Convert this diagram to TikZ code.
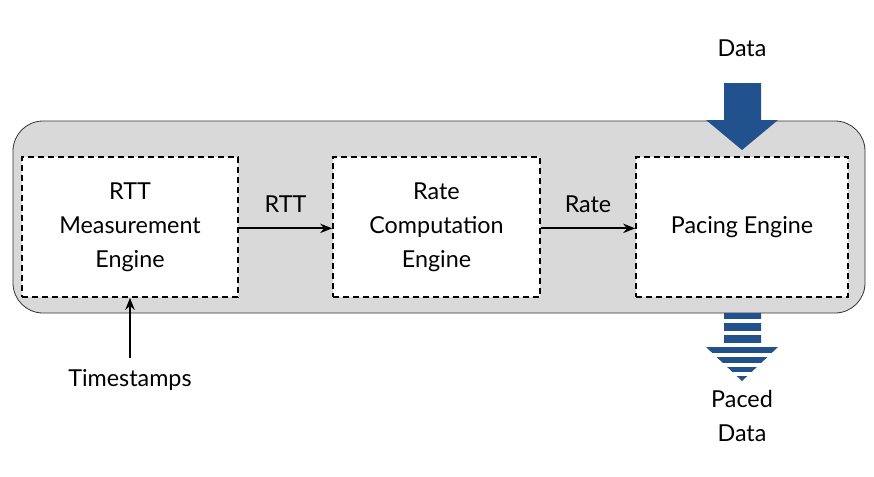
\documentclass[tikz,border=0pt]{standalone}
\usepackage{fontspec}
\setmainfont{Lato}
\usetikzlibrary{arrows.meta}
\definecolor{dblue}{HTML}{22528D}
\definecolor{panel}{HTML}{D9D9D9}
\begin{document}
\begin{tikzpicture}[x=0.75pt,y=-0.75pt,
  font=\fontsize{17.5}{25.5}\selectfont,
  engine/.style={draw=black,dashed,dash pattern=on 4.5pt off 3pt,line width=1.2pt,fill=white,minimum height=105pt,align=center,inner sep=0pt},
  flow/.style={line width=1.6pt,-{Stealth[length=9pt,width=7pt]}},
  lbl/.style={inner sep=0pt,align=center}]
\useasboundingbox (0,0) rectangle (874,476);
\fill[panel,draw=black!80,line width=0.6pt,rounded corners=22.5pt] (13,121) rectangle (865,313);
\node[engine,minimum width=162pt] (rtt) at (130,227) {RTT\\Measurement\\Engine};
\node[engine,minimum width=155.25pt] (rate) at (436.5,227) {Rate\\Computation\\Engine};
\node[engine,minimum width=159pt] (pace) at (742,227) {Pacing Engine};
\draw[flow] ([yshift=-1pt]rtt.east) -- node[lbl,above=11pt] {RTT} ([yshift=-1pt]rate.west);
\draw[flow] ([yshift=-1pt]rate.east) -- node[lbl,above=11pt] {Rate} ([yshift=-1pt]pace.west);
\node[lbl] (ts) at (130,380) {Timestamps};
\draw[flow] (ts.north |- 0,358) coordinate (tsn) -- (rtt.south);
\node[lbl] (data) at (742,48) {Data};
\fill[dblue] (724,83) -- (761,83) -- (761,120) -- (778,120) -- (742,150) -- (706,120) -- (724,120) -- cycle;
\begin{scope}
\clip (724,313) -- (761,313) -- (761,347) -- (778,347) -- (742,381) -- (706,347) -- (724,347) -- cycle;
\foreach \a/\b in {313/319,323/331,335/343,347/353,357/363,367/372,376/381}
  \fill[dblue] (700,\a) rectangle (784,\b);
\end{scope}
\node[lbl] (paced) at (742,416) {Paced\\Data};
\end{tikzpicture}
\end{document}
